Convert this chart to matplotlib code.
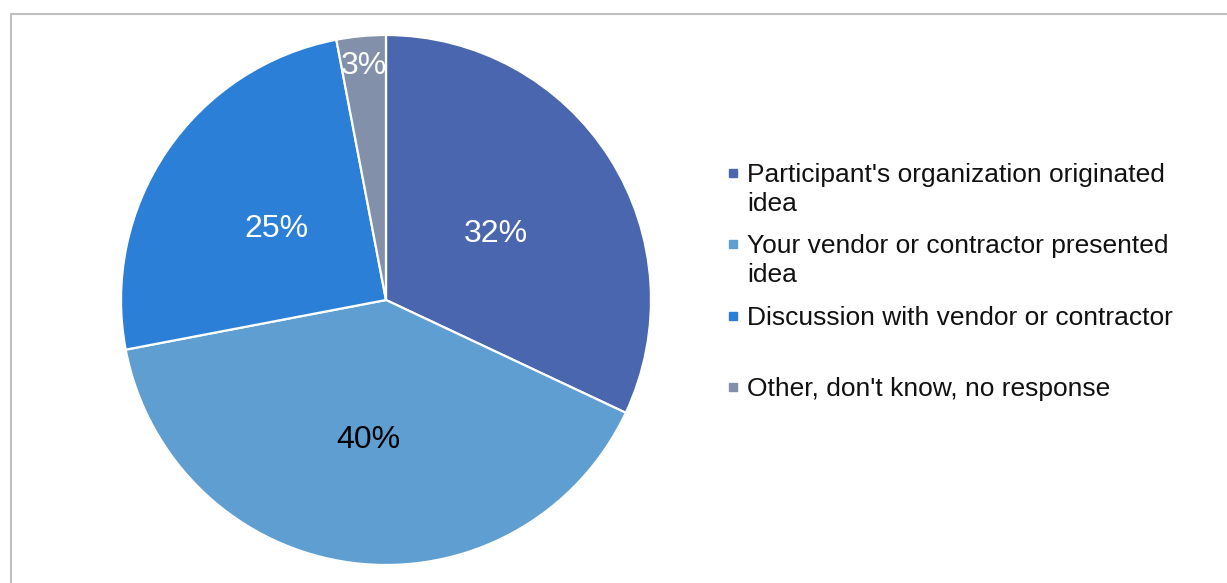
import matplotlib
matplotlib.use("Agg")
import matplotlib.pyplot as plt
from matplotlib.lines import Line2D
from matplotlib.patches import Rectangle
import numpy as np

# source of the idea, share of responses
labels = ["Participant's organization originated\nidea",
          "Your vendor or contractor presented\nidea",
          "Discussion with vendor or contractor",
          "Other, don't know, no response"]
shares = [32, 40, 25, 3]
colors = ["#4a66ae", "#5f9ed1", "#2b7fd6", "#8290aa"]
pct_colors = ["white", "black", "white", "white"]
pct_dist = [0.49, 0.52, 0.50, 0.90]

plt.rcParams['font.family'] = ['Liberation Sans', 'DejaVu Sans']

W, H = 1227, 583
fig = plt.figure(figsize=(W / 100, H / 100), dpi=100)

# outer frame, runs off the right and bottom edges
fig.add_artist(Line2D([11 / W, 11 / W], [0, 1 - 14 / H], color="#bfbfbf", lw=1.5,
                      transform=fig.transFigure))
fig.add_artist(Line2D([11 / W, 1.01], [1 - 14 / H, 1 - 14 / H], color="#bfbfbf", lw=1.5,
                      transform=fig.transFigure))

cx, cy, r = 386, 300, 265
ax = fig.add_axes([(cx - r) / W, (H - cy - r) / H, 2 * r / W, 2 * r / H])
wedges, _ = ax.pie(shares, colors=colors, startangle=90, counterclock=False,
                   wedgeprops=dict(edgecolor="white", linewidth=1.6))
ax.set_xlim(-1, 1)
ax.set_ylim(-1, 1)
ax.set_aspect("equal")
ax.axis("off")

for w, v, c, d in zip(wedges, shares, pct_colors, pct_dist):
    ang = np.deg2rad((w.theta1 + w.theta2) / 2)
    ax.text(d * np.cos(ang), d * np.sin(ang), f"{v}%", color=c, fontsize=23,
            ha="center", va="center_baseline")

# legend, one entry every 71.3 px, marker next to the first line
x_mark, x_text = 729, 747
for i, (lab, col) in enumerate(zip(labels, colors)):
    base = 182 + i * 71.3
    fig.add_artist(Rectangle((x_mark / W, 1 - (base - 5) / H), 8 / W, 8 / H,
                             color=col, transform=fig.transFigure))
    for j, line in enumerate(lab.split("\n")):
        fig.text(x_text / W, 1 - (base + j * 29) / H, line, fontsize=19,
                 color="#111111", ha="left", va="baseline")

fig.savefig("out.png", dpi=100)
